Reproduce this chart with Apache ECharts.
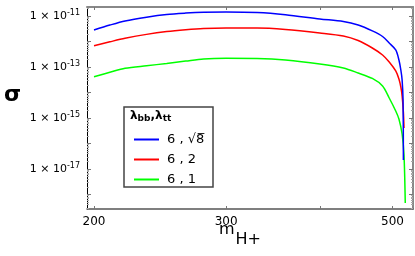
<!DOCTYPE html>
<html><head><meta charset="utf-8">
<script src="https://cdn.jsdelivr.net/npm/echarts@6/dist/echarts.min.js"></script>
<style>html,body{margin:0;padding:0;background:#fff}#c{width:415px;height:256px}</style>
</head><body><div id="c"></div>
<script>
// ---- data ----
const blueMass  = [200,210,220,235,250,265,280,300,330,360,400,430,450,470,485,495,505,510,513,515,516.5,517];
const blueSigma = [2.83e-12,4.4e-12,6.37e-12,9.0e-12,1.15e-11,1.30e-11,1.40e-11,1.44e-11,1.37e-11,1.12e-11,7.63e-12,6.08e-12,4.43e-12,2.6e-12,1.57e-12,8.7e-13,4.65e-13,1.88e-13,7.62e-14,3.09e-14,5.08e-15,2.25e-17];
const redMass   = [200,210,220,235,250,265,280,300,330,360,400,430,450,470,485,495,505,510,513,515,517,518];
const redSigma  = [6.84e-13,9.7e-13,1.33e-12,1.90e-12,2.46e-12,2.90e-12,3.24e-12,3.38e-12,3.38e-12,2.96e-12,2.16e-12,1.64e-12,1.09e-12,5.56e-13,2.96e-13,1.57e-13,6.97e-14,3.38e-14,1.64e-14,7.3e-15,1.72e-15,4.05e-16];
const greenMass = [200,210,220,235,250,265,280,300,330,360,400,430,450,470,485,495,505,510,515,518,520];
const greenSigma= [4.17e-14,6.2e-14,8.89e-14,1.12e-13,1.37e-13,1.70e-13,2.06e-13,2.19e-13,2.15e-13,1.88e-13,1.31e-13,9.1e-14,5.8e-14,3.55e-14,1.8e-14,6.08e-15,1.88e-15,9.14e-16,2.36e-16,3.54e-17,4.65e-19];
const seriesNames = ['6 , \u221A8\u0305', '6 , 2', '6 , 1'];
const xTicks = [200,300,400,500];
const xLabels = [200,300,500];
const yLabelExps = [-11,-13,-15,-17];
const xMin = 195.75, xMax = 532.5;
const yMin = 2.70e-19, yMax = 2.25e-11;

const yMajor = []; for (let e = -19; e <= -11; e++) yMajor.push(Math.pow(10, e));
const yMinor = []; for (let e = -19; e <= -11; e++) for (let k = 2; k <= 9; k++) { const v = k*Math.pow(10,e); if (v > yMin && v < yMax) yMinor.push(v); }
const yLab = yLabelExps.map(e => Math.pow(10, e));

const pair = (xs, ys) => xs.map((x, i) => [x, ys[i]]);
const font = 'DejaVu Sans';

function yAxisDef(pos, ticks, len, color, labels) {
  return {
    type: 'log', min: yMin, max: yMax, position: pos, gridIndex: 0,
    axisLine: { show: labels, lineStyle: { color: pos === 'left' ? '#000' : '#888', width: pos === 'left' ? 1 : 2 } },
    splitLine: { show: false },
    axisTick: { show: true, inside: true, length: len, customValues: ticks, lineStyle: { color: color, width: 1 } },
    axisLabel: labels && pos === 'left' ? {
      show: true, customValues: yLab, margin: 7,
      formatter: v => '{b|1 \u00D7 10}{s|' + Math.round(Math.log10(v)) + '}',
      rich: { b: { fontFamily: font, fontSize: 11, color: '#000' },
              s: { fontFamily: font, fontSize: 8, color: '#000', padding: [0, 0, 7, 0] } }
    } : { show: false }
  };
}
function xAxisDef(pos, labels) {
  return {
    type: 'log', min: xMin, max: xMax, position: pos, gridIndex: 0,
    axisLine: { show: true, lineStyle: { color: pos === 'bottom' ? '#555' : '#888', width: pos === 'bottom' ? 1.5 : 2 } },
    splitLine: { show: false },
    axisTick: { show: true, inside: true, length: 3, customValues: xTicks, lineStyle: { color: '#777' } },
    axisLabel: labels ? { show: true, customValues: xLabels, margin: 7, fontFamily: font, fontSize: 12, color: '#000', formatter: v => String(Math.round(v)) } : { show: false }
  };
}
const lineSeries = (name, data, color, z) => ({
  name, type: 'line', data, showSymbol: false, smooth: 0.3,
  lineStyle: { color, width: 1.5 }, itemStyle: { color }, z
});

const chart = echarts.init(document.getElementById('c'), null, { renderer: 'canvas' });
chart.setOption({
  animation: false,
  grid: { left: 87, right: 2, top: 7, bottom: 47, containLabel: false },
  xAxis: [ xAxisDef('bottom', true), xAxisDef('top', false) ],
  yAxis: [ yAxisDef('left', yMajor, 4, '#777', true), yAxisDef('left', yMinor, 2, '#aaa', false),
           yAxisDef('right', yMajor, 4, '#777', true), yAxisDef('right', yMinor, 2, '#aaa', false) ],
  legend: {
    left: 129, top: 128, orient: 'vertical', itemWidth: 25, itemHeight: 2, itemGap: 7, icon: 'rect',
    textStyle: { fontFamily: font, fontSize: 13, color: '#000', padding: [0, 0, 0, 3] },
    data: seriesNames
  },
  series: [
    lineSeries(seriesNames[0], pair(blueMass, blueSigma), '#0000ff', 4),
    lineSeries(seriesNames[1], pair(redMass, redSigma), '#ff0000', 3),
    lineSeries(seriesNames[2], pair(greenMass, greenSigma), '#00ff00', 2)
  ],
  graphic: [
    { type: 'rect', shape: { x: 124, y: 107, width: 89, height: 80 }, style: { fill: 'rgba(255,255,255,0)', stroke: '#444', lineWidth: 1.5 }, z: 10 },
    { type: 'text', x: 130, y: 109, z: 10, style: { text: '{l|\u03BB}{s|bb}{l|,\u03BB}{s|tt}', rich: {
        l: { fontFamily: font, fontSize: 12, fontWeight: 'bold', color: '#000' },
        s: { fontFamily: font, fontSize: 9, fontWeight: 'bold', color: '#000', padding: [5, 0, 0, 0] } } } },
    { type: 'text', x: 4, y: 84, style: { text: '\u03C3', fontFamily: font, fontSize: 22, fontWeight: 'bold', fill: '#000' } },
    { type: 'text', x: 219, y: 222, z: 10, style: { text: '{m|m}{h|H+}', rich: {
        m: { fontFamily: font, fontSize: 16, color: '#000', padding: [0, 0, 10, 0] },
        h: { fontFamily: font, fontSize: 16, color: '#000', padding: [10, 0, 0, 1] } } } }
  ]
});
</script></body></html>
